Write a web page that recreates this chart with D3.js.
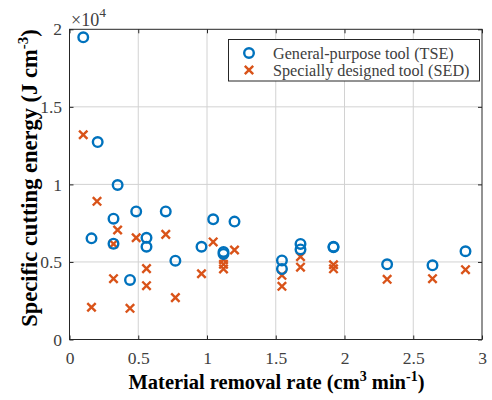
<!DOCTYPE html>
<html>
<head>
<meta charset="utf-8">
<script src="https://cdn.jsdelivr.net/npm/d3@7"></script>
<style>
  body { margin: 0; background: #fff; }
  svg text { font-family: "Liberation Serif", "Times New Roman", serif !important; }
</style>
</head>
<body>
<svg id="chart" width="492" height="400"></svg>
<script>
// General-purpose tool (TSE)
const tseX = [0.10, 0.205, 0.35, 0.32, 0.16, 0.32, 0.485, 0.56, 0.56, 0.44, 0.70, 0.77, 0.96, 1.045,
  1.12, 1.12, 1.20, 1.545, 1.545, 1.68, 1.68, 1.92, 1.92, 2.31, 2.64, 2.88];
const tseY = [19480, 12730, 9960, 7790, 6520, 6180, 8260, 6560, 5980, 3840, 8260, 5080, 5980, 7750,
  5640, 5520, 7600, 5100, 4550, 6160, 5810, 5980, 5950, 4850, 4780, 5690];

// Specially designed tool (SED)
const sedX = [0.10, 0.20, 0.35, 0.32, 0.485, 0.70, 1.045, 1.20, 1.12, 1.12, 1.12, 0.56, 0.32, 0.96,
  0.56, 0.77, 0.16, 0.44, 1.545, 1.545, 1.68, 1.68, 1.92, 1.92, 2.31, 2.64, 2.88];
const sedY = [13200, 8910, 7060, 6160, 6560, 6780, 6290, 5770, 5150, 4850, 4550, 4570, 3920, 4240,
  3470, 2700, 2080, 2010, 4140, 3430, 5340, 4660, 4820, 4560, 3880, 3920, 4500];

const xTicks = [0, 0.5, 1, 1.5, 2, 2.5, 3];
const yTicks = [0, 5000, 10000, 15000, 20000];
const yTickLabels = ["0", "0.5", "1", "1.5", "2"];
const legendLabels = ["General-purpose tool (TSE)", "Specially designed tool (SED)"];

const BLUE = "#0072BD", ORANGE = "#D95319";
const SERIF = "'Liberation Serif', 'Times New Roman', serif";
const pLeft = 69.5, pRight = 482, pTop = 29.3, pBottom = 339.5;

const svg = d3.select("#chart").attr("font-family", SERIF);
const x = d3.scaleLinear().domain([0, 3]).range([pLeft, pRight]);
const y = d3.scaleLinear().domain([0, 20000]).range([pBottom, pTop]);

// grid
svg.append("g").selectAll("line").data(xTicks.slice(1, -1)).enter().append("line")
  .attr("x1", d => x(d)).attr("x2", d => x(d)).attr("y1", pTop).attr("y2", pBottom)
  .attr("stroke", "#d2d2d2").attr("stroke-width", 1);
svg.append("g").selectAll("line").data(yTicks.slice(1, -1)).enter().append("line")
  .attr("y1", d => y(d)).attr("y2", d => y(d)).attr("x1", pLeft).attr("x2", pRight)
  .attr("stroke", "#d2d2d2").attr("stroke-width", 1);

// axes (ticks inward, box style)
function styleAxis(g) {
  g.attr("font-family", SERIF).attr("font-size", 17.5);
  g.select(".domain").remove();
  g.selectAll(".tick line").attr("stroke", "#262626");
  g.selectAll(".tick text").attr("fill", "#404040");
}
svg.append("g").attr("transform", `translate(0,${pBottom})`)
  .call(d3.axisBottom(x).tickValues(xTicks).tickSize(-4).tickPadding(12.5).tickFormat(d3.format("")))
  .call(styleAxis);
svg.append("g").attr("transform", `translate(0,${pTop})`)
  .call(d3.axisTop(x).tickValues(xTicks).tickSize(-4).tickFormat(""))
  .call(styleAxis);
svg.append("g").attr("transform", `translate(${pLeft},0)`)
  .call(d3.axisLeft(y).tickValues(yTicks).tickSize(-4).tickPadding(7.5).tickFormat((d, i) => yTickLabels[i]))
  .call(styleAxis);
svg.append("g").attr("transform", `translate(${pRight},0)`)
  .call(d3.axisRight(y).tickValues(yTicks).tickSize(-4).tickFormat(""))
  .call(styleAxis);

svg.append("rect").attr("x", pLeft).attr("y", pTop).attr("width", pRight - pLeft).attr("height", pBottom - pTop)
  .attr("fill", "none").attr("stroke", "#262626").attr("stroke-width", 1);

// exponent
const ex = svg.append("text").attr("x", pLeft + 1.5).attr("y", 26).attr("fill", "#404040")
  .attr("font-size", 18);
ex.append("tspan").text("\u00d710");
ex.append("tspan").attr("dy", -9).attr("font-size", 13.5).text("4");

// data
const tse = tseX.map((d, i) => [d, tseY[i]]);
const sed = sedX.map((d, i) => [d, sedY[i]]);

function cross(g, s) {
  g.append("path").attr("d", `M${-s},${-s}L${s},${s}M${-s},${s}L${s},${-s}`)
    .attr("stroke", ORANGE).attr("stroke-width", 2.4).attr("fill", "none");
}

svg.append("g").selectAll("g").data(sed).enter().append("g")
  .attr("transform", d => `translate(${x(d[0])},${y(d[1])})`)
  .each(function () { cross(d3.select(this), 4.2); });

svg.append("g").selectAll("circle").data(tse).enter().append("circle")
  .attr("cx", d => x(d[0])).attr("cy", d => y(d[1])).attr("r", 4.8)
  .attr("fill", "none").attr("stroke", BLUE).attr("stroke-width", 2.4);

// legend
const lg = svg.append("g");
lg.append("rect").attr("x", 228.5).attr("y", 39.5).attr("width", 251).attr("height", 41.5)
  .attr("fill", "#fff").attr("stroke", "#262626").attr("stroke-width", 1);
lg.append("circle").attr("cx", 249).attr("cy", 53).attr("r", 4.8)
  .attr("fill", "none").attr("stroke", BLUE).attr("stroke-width", 2.4);
cross(lg.append("g").attr("transform", "translate(249,70)"), 4.2);
lg.selectAll("text").data(legendLabels).enter().append("text")
  .attr("x", 273).attr("y", (d, i) => 58.5 + i * 17).attr("fill", "#404040")
  .attr("font-size", 16.2).text(d => d);

// axis labels
const xl = svg.append("text").attr("x", 276.5).attr("y", 389).attr("text-anchor", "middle")
  .attr("font-size", 20.5).attr("font-weight", "bold").attr("fill", "#000");
xl.append("tspan").text("Material removal rate (cm");
xl.append("tspan").attr("dy", -8).attr("font-size", 14).text("3");
xl.append("tspan").attr("dy", 8).text(" min");
xl.append("tspan").attr("dy", -8).attr("font-size", 14).text("-1");
xl.append("tspan").attr("dy", 8).text(")");

const yl = svg.append("text").attr("transform", "translate(37,178) rotate(-90)")
  .attr("text-anchor", "middle")
  .attr("font-size", 22.5).attr("font-weight", "bold").attr("fill", "#000");
yl.append("tspan").text("Specific cutting energy (J cm");
yl.append("tspan").attr("dy", -9).attr("font-size", 15).text("-3");
yl.append("tspan").attr("dy", 9).text(")");
</script>
</body>
</html>
